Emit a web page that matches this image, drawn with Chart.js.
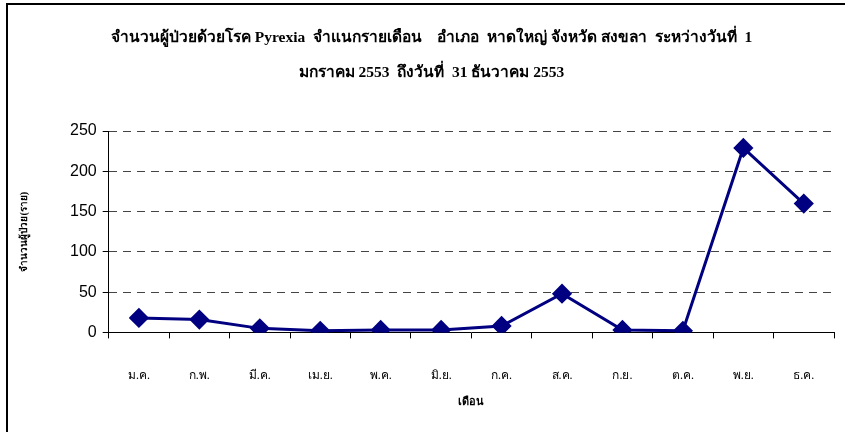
<!DOCTYPE html>
<html>
<head>
<meta charset="utf-8">
<script src="https://cdn.jsdelivr.net/npm/chart.js@4/dist/chart.umd.min.js"></script>
<style>
  html, body { margin: 0; padding: 0; background: #fff; }
  #wrap { width: 845px; height: 432px; }
</style>
</head>
<body>
<div id="wrap"><canvas id="pyrexiaChart"></canvas></div>
<script>
// --- DATA ---
const months = ['ม.ค.', 'ก.พ.', 'มี.ค.', 'เม.ย.', 'พ.ค.', 'มิ.ย.', 'ก.ค.', 'ส.ค.', 'ก.ย.', 'ต.ค.', 'พ.ย.', 'ธ.ค.'];
const patients = [18, 16, 5, 2, 3, 3, 8, 48, 3, 2, 229, 160];
const yTicks = [0, 50, 100, 150, 200, 250];

const titleLines = [
    'จำนวนผู้ป่วยด้วยโรค Pyrexia  จำแนกรายเดือน    อำเภอ  หาดใหญ่ จังหวัด สงขลา  ระหว่างวันที่  1',
    'มกราคม 2553  ถึงวันที่  31 ธันวาคม 2553'
];

// frame on left + top edge, like the sheet border
const framePlugin = {
    id: 'frame',
    afterDraw(chart) {
        const c = chart.ctx;
        c.save();
        c.strokeStyle = '#000';
        c.lineWidth = 2;
        c.beginPath();
        c.moveTo(7, 432);
        c.lineTo(7, 4);
        c.lineTo(845, 4);
        c.stroke();
        c.restore();
    }
};

const ctx = document.getElementById('pyrexiaChart').getContext('2d');
new Chart(ctx, {
    type: 'line',
    data: {
        labels: months,
        datasets: [{
            data: patients,
            borderColor: '#000080',
            backgroundColor: '#000080',
            borderWidth: 3,
            pointStyle: 'rectRot',
            pointRadius: 8,
            pointHoverRadius: 8,
            tension: 0
        }]
    },
    options: {
        responsive: true,
        maintainAspectRatio: false,
        animation: false,
        layout: { padding: { left: 16, right: -2, top: 0, bottom: 19 } },
        plugins: {
            legend: { display: false },
            tooltip: { enabled: false },
            title: {
                display: true,
                text: titleLines,
                color: '#000',
                font: { family: 'Liberation Serif', size: 15.5, weight: 'bold', lineHeight: 2.26 },
                padding: { top: 20, bottom: 41 }
            }
        },
        scales: {
            x: {
                offset: true,
                grid: { display: true, offset: true, drawOnChartArea: false, drawTicks: true, tickLength: 6, color: '#000' },
                border: { display: true, color: '#000', width: 1 },
                ticks: { color: '#000', font: { family: 'Liberation Serif', size: 12 }, padding: 30, maxRotation: 0, autoSkip: false },
                title: { display: true, text: 'เดือน', color: '#000', font: { family: 'Liberation Serif', size: 11, weight: 'bold' }, padding: { top: -17 } }
            },
            y: {
                min: 0,
                max: 250,
                afterBuildTicks(axis) { axis.ticks = yTicks.map(v => ({ value: v })); },
                grid: {
                    color: '#444',
                    tickColor: '#000',
                    tickLength: 6,
                    drawTicks: true
                },
                border: { display: true, color: '#000', width: 1, dash: [8, 6] },
                ticks: { color: '#000', font: { family: 'Liberation Sans', size: 16 }, padding: 6 },
                title: { display: true, text: 'จำนวนผู้ป่วย(ราย)', color: '#000', font: { family: 'Liberation Serif', size: 10, weight: 'bold' }, padding: { top: 2, bottom: 34 } }
            }
        }
    },
    plugins: [framePlugin]
});
</script>
</body>
</html>
